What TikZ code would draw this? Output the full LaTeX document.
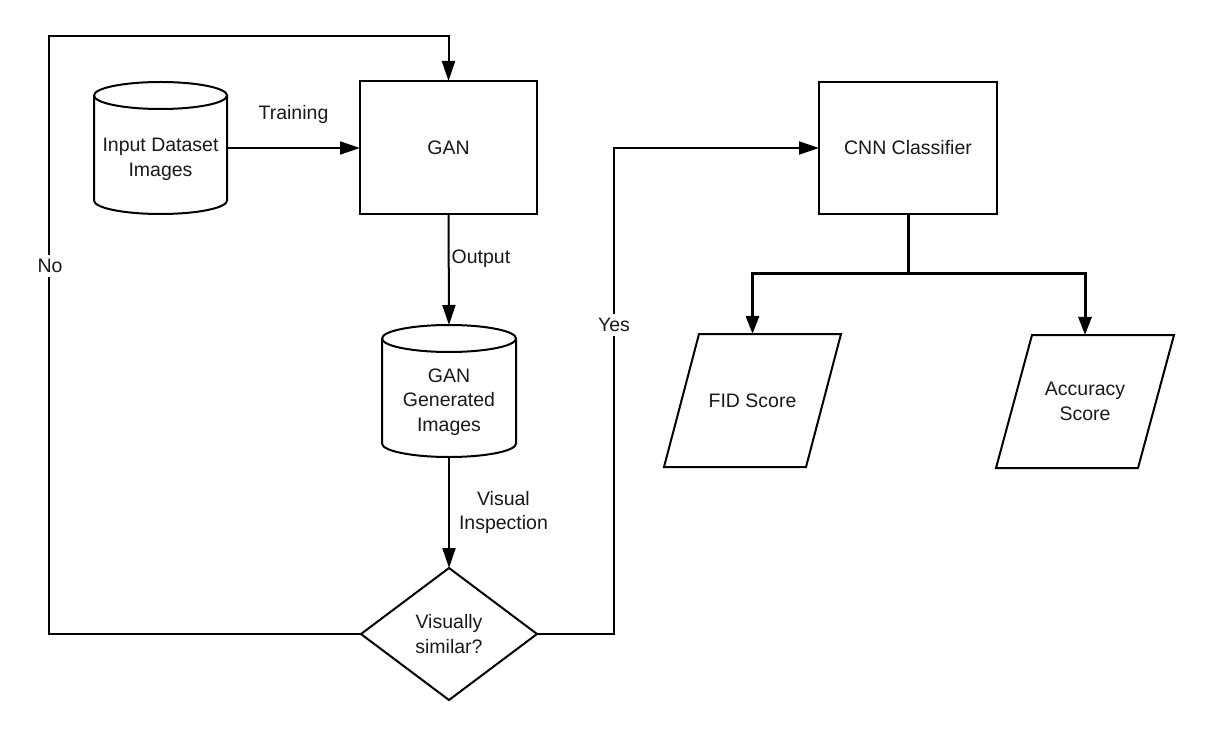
\documentclass[tikz,border=0pt]{standalone}
\usepackage{fontspec}
\setmainfont{Liberation Sans}
\usetikzlibrary{arrows.meta,calc}
\begin{document}
\begin{tikzpicture}[x=0.5pt,y=-0.5pt,
  every node/.style={font=\fontsize{9.75}{12.2}\selectfont, inner sep=0pt, outer sep=0pt, align=center, text=black!90},
  box/.style={draw, line width=1pt, rectangle},
  shp/.style={draw, line width=1pt, line join=miter},
  arr/.style={line width=1pt, -{Triangle[length=10pt,width=6.5pt]}},
  barr/.style={line width=1.5pt, -{Triangle[length=9pt,width=6.5pt]}},
  lbl/.style={fill=white, inner sep=2pt}
]
\useasboundingbox (0,0) rectangle (1224,732);

% ---- nodes ----
\node[minimum width=66.5pt, minimum height=66pt] (inp) at (160.5,148) {};
\draw[shp] ($(inp.north west)+(0,13.5)$) -- ($(inp.south west)+(0,-13.5)$)
  arc[start angle=180, end angle=0, x radius=66.5, y radius=13.5]
  -- ($(inp.north east)+(0,13.5)$);
\draw[shp] ($(inp.north)+(0,13.5)$) ellipse [x radius=66.5, y radius=13.5];
\node (inptxt) at ($(inp.center)+(0,11.5)$) {Input Dataset\\Images};

\node[box, minimum width=88.5pt, minimum height=66.5pt] (gan) at (448.5,147.5) {GAN};

\node[minimum width=67pt, minimum height=66pt] (gen) at (449,391) {};
\draw[shp] ($(gen.north west)+(0,13.5)$) -- ($(gen.south west)+(0,-13.5)$)
  arc[start angle=180, end angle=0, x radius=67, y radius=13.5]
  -- ($(gen.north east)+(0,13.5)$);
\draw[shp] ($(gen.north)+(0,13.5)$) ellipse [x radius=67, y radius=13.5];
\node (gentxt) at ($(gen.center)+(0,11)$) {GAN\\Generated\\Images};

\node[minimum width=88pt, minimum height=66pt] (dia) at (449,634) {Visually\\similar?};
\draw[shp] (dia.north) -- (dia.east) -- (dia.south) -- (dia.west) -- cycle;

\node[box, minimum width=89pt, minimum height=66pt] (cnn) at (908,148) {CNN Classifier};

\node[minimum width=88.5pt, minimum height=66.5pt] (fid) at (752.5,400.5) {FID Score};
\draw[shp] ($(fid.north west)+(35,0)$) -- (fid.north east) -- ($(fid.south east)+(-35,0)$) -- (fid.south west) -- cycle;

\node[minimum width=89pt, minimum height=66.5pt] (acc) at (1085,401.5) {Accuracy\\Score};
\draw[shp] ($(acc.north west)+(36,0)$) -- (acc.north east) -- ($(acc.south east)+(-36,0)$) -- (acc.south west) -- cycle;

% ---- helper coordinates ----
\coordinate (noc) at (49,36);
\coordinate (yesc) at (614,148);
\coordinate (brc) at (908,274);

% ---- connectors ----
\draw[arr] (inp.east) -- (inp.east -| gan.west)
  node[midway, yshift=17pt] (ltrain) {Training};
\draw[arr] (gan.south) -- (gen.north)
  node[pos=0.4, anchor=west, xshift=1.5pt] (lout) {Output};
\draw[arr] (gen.south) -- (dia.north)
  node[midway, anchor=west, xshift=5pt] (lvis) {Visual\\Inspection};
\draw[arr] (dia.west) -- (dia.west -| noc) -- (noc) -- (noc -| gan.north) -- (gan.north);
\node[lbl] (lno) at (50,266) {No};
\draw[arr] (dia.east) -- (dia.east -| yesc) -- (yesc) -- (cnn.west);
\node[lbl] (lyes) at (614,325) {Yes};
\draw[line width=1.5pt] (cnn.south) -- (brc);
\draw[barr] (brc) -| (fid.north);
\draw[barr] (brc) -| (acc.north);
\end{tikzpicture}
\end{document}
